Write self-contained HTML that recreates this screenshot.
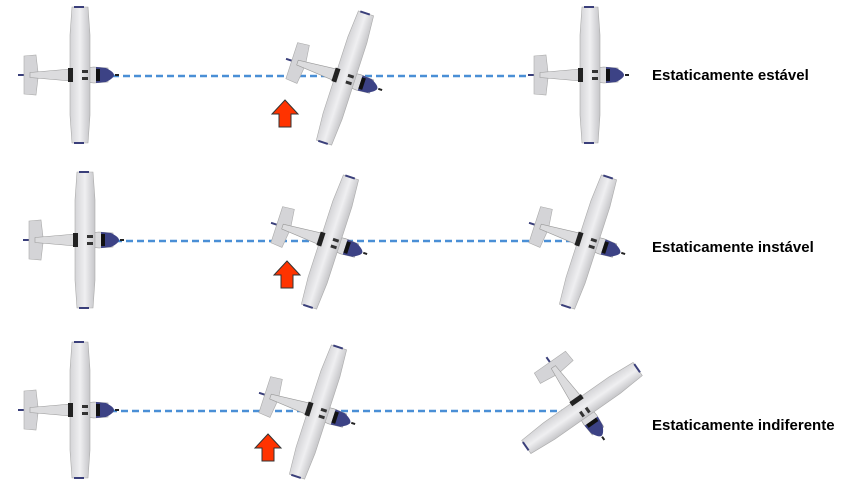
<!DOCTYPE html>
<html><head><style>
body{margin:0;background:#fff;width:854px;height:486px;overflow:hidden}
text{font-family:"Liberation Sans",Arial,sans-serif;font-weight:bold;font-size:15px;fill:#000}
</style></head><body>
<svg width="854" height="486" viewBox="0 0 854 486" xmlns="http://www.w3.org/2000/svg">
<defs>
<linearGradient id="wg" x1="0" x2="1"><stop offset="0" stop-color="#d4d4d7"/><stop offset="0.5" stop-color="#efeff1"/><stop offset="1" stop-color="#c6c6c9"/></linearGradient>
<g id="p">
 <line x1="-62" y1="0" x2="-40" y2="0" stroke="#3a3f7a" stroke-width="2"/>
 <path d="M-56,-19 L-44,-20 L-42,-3 L-42,3 L-44,20 L-56,19 Z" fill="#d4d4d7" stroke="#aaa" stroke-width="0.6"/>
 <path d="M-50,-2.5 L14,-8 L28,-7 L28,7 L14,8 L-50,2.5 Z" fill="#dcdcde" stroke="#999" stroke-width="0.6"/>
 <path d="M-8,-68 L8,-68 L10,-40 L10,40 L8,68 L-8,68 L-10,40 L-10,-40 Z" fill="url(#wg)" stroke="#aaa" stroke-width="0.6"/>
 <rect x="-6" y="-69" width="10" height="2" fill="#3a3f7a"/>
 <rect x="-6" y="67" width="10" height="2" fill="#3a3f7a"/>
 <rect x="-12" y="-7" width="5" height="14" fill="#222"/>
 <rect x="2" y="-5" width="6" height="3" fill="#333"/><rect x="2" y="2" width="6" height="3" fill="#333"/>
 <path d="M16,-8 L26,-7 Q34,-3 34,0 Q34,3 26,7 L16,8 Z" fill="#3c4285"/>
 <rect x="16" y="-6" width="4" height="12" fill="#111"/>
 <line x1="35" y1="0" x2="39" y2="0" stroke="#222" stroke-width="2"/>
</g>
<g id="a"><path d="M0,-14 L13,0 L6,0 L6,13 L-6,13 L-6,0 L-13,0 Z" fill="#ff3300" stroke="#333" stroke-width="1"/></g>
</defs>
<g stroke="#4a8fd6" stroke-width="2.5" stroke-dasharray="7 4">
<line x1="112" y1="76" x2="530" y2="76"/>
<line x1="115" y1="241" x2="580" y2="241"/>
<line x1="110" y1="411" x2="572" y2="411"/>
</g>
<use href="#p" transform="translate(80,75)"/>
<use href="#p" transform="translate(345,78) rotate(18)"/>
<use href="#p" transform="translate(590,75)"/>
<use href="#p" transform="translate(85,240)"/>
<use href="#p" transform="translate(330,242) rotate(18)"/>
<use href="#p" transform="translate(588,242) rotate(18)"/>
<use href="#p" transform="translate(80,410)"/>
<use href="#p" transform="translate(318,412) rotate(18)"/>
<use href="#p" transform="translate(582,408) rotate(55)"/>
<use href="#a" transform="translate(285,114)"/>
<use href="#a" transform="translate(287,275)"/>
<use href="#a" transform="translate(268,448)"/>
<text x="652" y="80">Estaticamente estável</text>
<text x="652" y="252">Estaticamente instável</text>
<text x="652" y="430">Estaticamente indiferente</text>
</svg>
</body></html>
